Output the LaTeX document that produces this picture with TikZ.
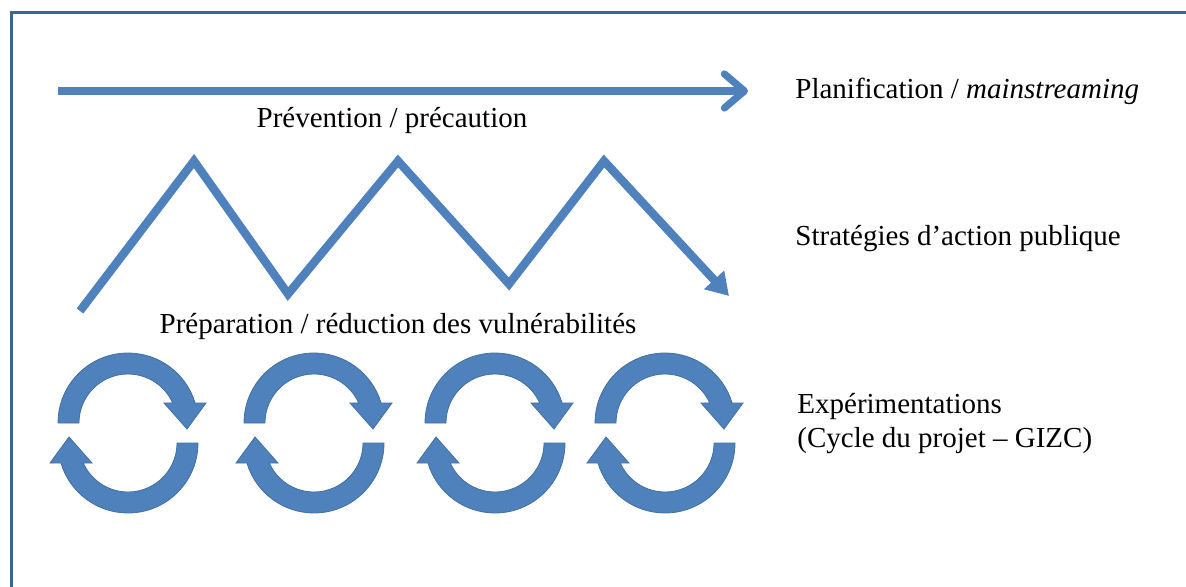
\documentclass[tikz,border=0pt]{standalone}
\usepackage{fontspec}
\setmainfont{Liberation Serif}
\usetikzlibrary{arrows.meta}
\definecolor{ppblue}{HTML}{4F81BD}
\definecolor{ppedge}{HTML}{41719C}
\definecolor{ppframe}{HTML}{3E6497}
\tikzset{
  lbl/.style={font=\fontsize{14.5pt}{17pt}\selectfont, inner sep=0pt, anchor=base west},
  cyc/.style={fill=ppblue, draw=ppedge, line width=0.4pt},
  halfcyc/.pic={
    \filldraw[cyc] (180:70) arc[start angle=180, end angle=343.4, radius=70]
      -- (78,-20) -- (59,6) -- (36,-20) -- (335.9:49)
      arc[start angle=335.9, end angle=180, radius=49] -- cycle;
  }
}
\begin{document}
\begin{tikzpicture}[x=0.5pt, y=-0.5pt]
    \useasboundingbox (0,0) rectangle (1186,587);
    \draw[ppframe, line width=1.5pt] (11,587) -- (11,13) -- (1186,13);
    \draw[ppblue, line width=3.6pt, -{Straight Barb[round, length=10pt, width=17pt]}] (58,91) -- (748,91);
    \draw[ppblue, line width=4.2pt, -{Triangle[length=11pt, width=13pt]}]
        (80,311) -- (194,161) -- (288,294) -- (398,161) -- (509,284) -- (604,161) -- (729,296);
    \foreach \cx in {128,314,495,665} {
        \pic at (\cx,423) {halfcyc};
        \pic[rotate=180] at (\cx,443) {halfcyc};
    }
    \node[lbl] (plan) at (795,99) {Planification / \textit{mainstreaming}};
    \node[lbl, anchor=base] (prev) at (392,128) {Prévention / précaution};
    \node[lbl] (strat) at (795,246) {Stratégies d’action publique};
    \node[lbl, anchor=base] (prep) at (398,333) {Préparation / réduction des vulnérabilités};
    \node[lbl] (exp) at (797,413) {Expérimentations};
    \node[lbl] (cycle) at (797,447) {(Cycle du projet -- GIZC)};
\end{tikzpicture}
\end{document}
